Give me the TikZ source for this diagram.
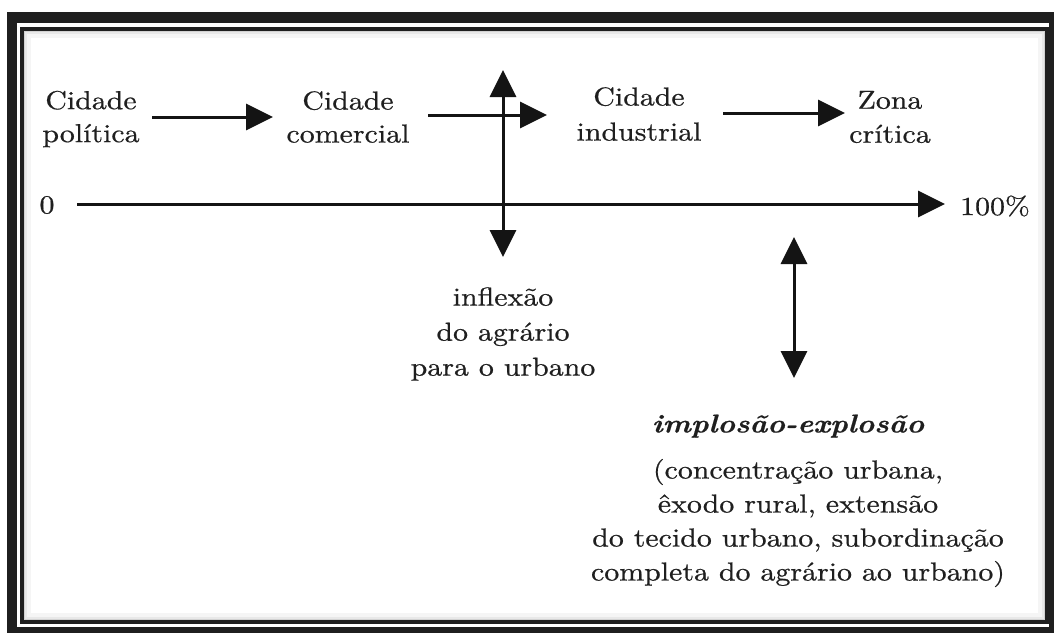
\documentclass[tikz,border=0pt]{standalone}
\usepackage{fontspec}
\setmainfont{lmroman10}[Extension=.otf, UprightFont=*-regular, BoldFont=*-bold, ItalicFont=*-italic, BoldItalicFont=*-bolditalic, FakeStretch=1.15, FakeBold=0.6]
\usetikzlibrary{arrows.meta}
\tikzset{
  lbl/.style={align=center, inner sep=0pt, text=black!88, font=\fontsize{26}{33}\selectfont},
  tipT/.tip={Triangle[length=27pt,width=26pt]},
  arr/.style={line width=3pt, draw=black!92, -tipT},
  darr/.style={line width=3pt, draw=black!92, tipT-tipT},
}
\begin{document}
\begin{tikzpicture}[x=1pt,y=-1pt]
\useasboundingbox (0,0) rectangle (1054,632);
% frame
\fill[white] (0,0) rectangle (1054,632);
\fill[black!88] (7,12) rectangle (1060,640);
\fill[white] (17,23) rectangle (1049,627);
\draw[gray!8, line width=4pt] (28.5,35.5) rectangle (1040,615);
\draw[gray!18, line width=2.5pt] (25.5,32.5) rectangle (1043,618);
\draw[gray!35, line width=2pt] (24,31) rectangle (1044.5,619.5);
\draw[black!88, line width=4pt] (21.5,28.5) rectangle (1047,622);
% labels
\node[lbl] (pol) at (91,119) {Cidade\\política};
\node[lbl] (com) at (348,117) {Cidade\\comercial};
\node[lbl, font=\fontsize{26}{35}\selectfont] (ind) at (639,114) {Cidade\\industrial};
\node[lbl, font=\fontsize{26}{34}\selectfont] (zon) at (890,117) {Zona\\crítica};
\node[lbl] (zero) at (47,205) {0};
\node[lbl] (cem) at (995,206) {100\%};
\node[lbl, font=\fontsize{26}{35}\selectfont] (inf) at (503,334) {inflexão\\do agrário\\para o urbano};
\node[lbl, font=\fontsize{26}{33}\selectfont\bfseries\itshape] (imp) at (788,426) {implosão-explosão};
\node[lbl, font=\fontsize{26}{34}\selectfont] (con) at (798,523) {(concentração urbana,\\êxodo rural, extensão\\do tecido urbano, subordinação\\completa do agrário ao urbano)};
% connector end points
\coordinate (a1s) at (152,117); \coordinate (a1e) at (273,117);
\coordinate (a2s) at (428,115); \coordinate (a2e) at (547,115);
\coordinate (a3s) at (723,113); \coordinate (a3e) at (845,113);
\coordinate (axs) at (77,204);  \coordinate (axe) at (945,204);
\coordinate (v1t) at (503,70);  \coordinate (v1b) at (503,257);
\coordinate (v2t) at (794,237); \coordinate (v2b) at (794,378);
% connectors
\draw[arr] (a1s) -- (a1e);
\draw[arr] (a2s) -- (a2e);
\draw[arr] (a3s) -- (a3e);
\draw[arr] (axs) -- (axe);
\draw[darr] (v1t) -- (v1b);
\draw[darr] (v2t) -- (v2b);
\end{tikzpicture}
\end{document}
